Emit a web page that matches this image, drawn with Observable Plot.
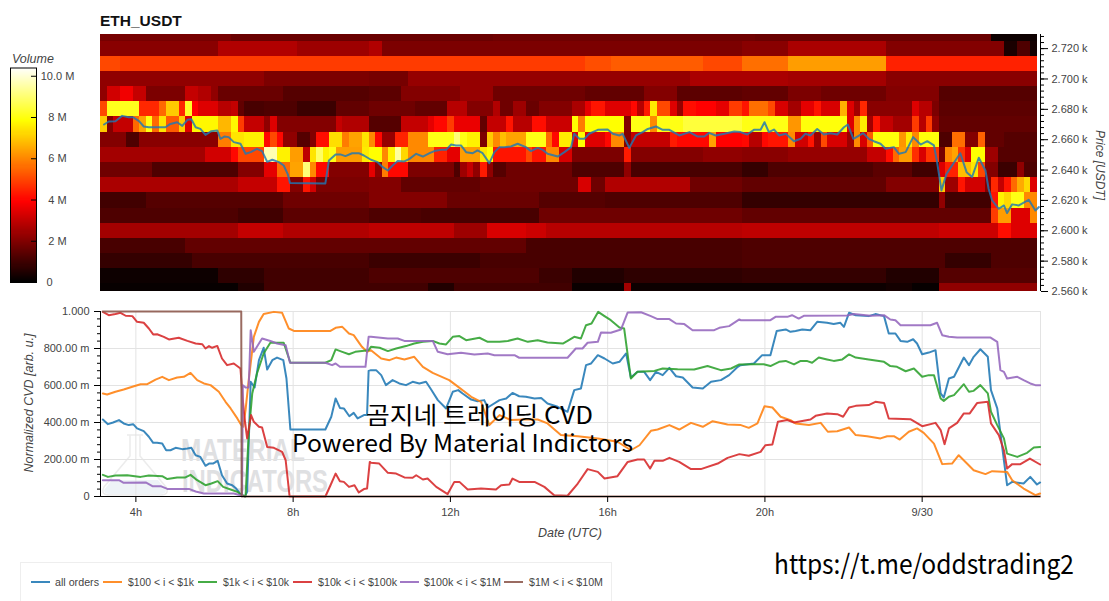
<!DOCTYPE html>
<html><head><meta charset="utf-8">
<script src="https://cdn.jsdelivr.net/npm/d3@7"></script>
<script src="https://cdn.jsdelivr.net/npm/@observablehq/plot@0.6"></script>
<style>
html,body{margin:0;padding:0;background:#fff}
#wrap{position:relative;width:1109px;height:601px;overflow:hidden;font-family:"Liberation Sans",Arial,sans-serif}
#wrap>*{position:absolute;left:0;top:0}
#legend{left:20px;top:562px;width:592px;height:50px;border:1px solid #eee;box-sizing:border-box;z-index:3;background:#fff}
</style></head><body><div id="wrap"></div>
<script>
// ---------- heat map: [start column, volume in millions, ...]; a value holds until the next start column
const row2730=[0,1.8,20,1.6,60,1.7,100,1.6,136,0.2];
const row2720=[0,2.1,18,2.7,30,2.4,41,2.7,43,1.9,98,2.1,105,2.6,120,2.0,138,0.4,140,1.2,142,0.3];
const row2710=[0,5.0,3,4.8,74,5.1,78,5.3,92,5.0,98,5.6,105,6.3,120,4.4];
const row2700=[0,2.2,25,1.9,41,1.8,47,2.3,90,2.6,105,2.5,120,2.1];
const row2690=[0,2.2,1,3.2,3,3.7,5,3.0,7,1.9,13,3.0,15,2.7,17,2.2,18,1.6,28,1.3,41,1.4,46,2.0,55,2.3,60,1.7,74,1.5,83,2.0,88,1.4,98,1.5,105,1.9,110,1.7,120,2.0,128,1.3];
const row2680=[0,5,1,8.1,6,4.5,9,5.5,10,7,12,4.5,13,8.2,14,3.9,15,3.4,18,2.8,20,3.0,21,1.5,22,1.1,25,1.2,30,0.9,36,1.5,41,1.7,48,1.5,53,2.8,56,2,60,2.7,61,1.7,63,2.4,65,1.6,67,2,72,2.6,74,3.5,75,4.2,77,3.4,81,4,82,2.8,83,4.3,84,7.5,85,5,87,3.4,88,2.3,89,4.1,91,3.9,94,3.5,96,4.8,98,4.2,99,5.6,102,5,103,3.3,105,2.5,107,3.5,109,4.2,110,3.3,113,6.6,114,3.4,115,2.5,116,4.5,117,2.1,124,3.4,125,2.8,127,1.9,128,1.4];
const row2670=[0,7,1,2,2,3,5,5.5,6,6.4,7,8,8,5.5,9,7.4,10,5.3,12,7,13,3.4,14,7.7,18,6.7,20,7.7,21,4.8,22,3,25,2.2,26,3.4,27,2,36,3,37,2.7,41,1.3,46,3,50,3.5,51,4,53,4.8,54,3.6,58,1.5,59,3,62,4.2,63,2.8,66,4.1,68,3.1,72,7.8,73,5.8,74,7.8,80,2,81,8,84,6,85,8,89,8.4,98,8,105,6.2,107,7.9,114,3.4,115,6,116,7.5,117,2.5,118,4.2,119,3,121,2.5,124,4.8,125,2.8,126,4.8,127,2.2,128,1.5];
const row2660=[0,2,4,1.2,6,2.1,18,5.8,20,7.4,22,7.6,25,4,26,5,27,4,28,2.2,30,1.3,32,2,33,4.1,35,7.3,37,5.8,38,6.4,40,7.4,41,6,42,4,43,2.3,45,4.4,47,6,50,8,54,9,55,8,56,7.6,58,1.9,59,7,60,6,61,6.8,62,6.4,65,8,68,5.5,69,4,70,7.5,72,3.4,73,7.8,74,3.4,77,4,78,6,80,2,81,3,87,4.3,88,4,93,6.4,94,3.9,98,4,99,2.8,101,4,102,4.2,105,6,106,3.2,108,4.2,109,2.4,110,5,111,3.3,114,2.4,115,6,116,3.3,117,5.3,118,7.9,122,6.2,123,7.5,124,6,125,7.9,128,1.2,130,5.6,132,2,134,5.4,135,1.5,138,1.3];
const row2650=[0,2.5,16,3.2,20,4,21,5,25,9.6,27,7.6,29,6.3,31,2.9,32,7.4,33,8.8,34,7.6,35,8,36,6.3,40,7.5,41,7.8,43,6,44,7.6,45,9.4,46,7.2,47,6,51,4.4,53,3.5,55,6.3,58,7.4,59,7.8,60,4.2,65,5,66,4.2,68,6,70,3.3,72,1.9,80,4.3,81,2,92,2.2,98,2.1,105,2.3,117,3,120,4.1,121,5.5,122,6.3,124,4.6,125,3.3,126,4.7,128,1.8,129,6,130,6.4,131,4.7,132,3.4,133,7.8,135,2.4,137,1.3];
const row2640=[0,1.7,8,1.2,21,2,25,3.5,27,5.5,29,6.4,31,9,32,6,33,4,35,2,41,3.5,42,2.2,43,5.8,44,4,47,1.9,54,1.2,55,2.4,56,3,57,2.2,58,4.3,59,2.2,60,1.3,62,1.7,72,1.2,80,2.2,81,1.1,98,0.8,102,1.2,118,1.4,124,1,128,3.4,129,4.4,131,6.8,133,7.4,134,5,135,2,137,0.9,140,2.2,141,1.2];
const row2630=[0,2.6,21,3,27,4.2,29,2,31,4.2,32,3.2,33,1.9,41,2,46,1.5,58,1.7,73,3.3,75,1.7,77,2.7,90,1.7,98,1.5,120,2,128,7,129,2.4,131,4.2,132,3.2,135,2,136,4.5,137,3,138,4.2,139,5.5,140,6.5,141,7.2,142,3.4];
const row2620=[0,1,7,1.3,28,1.7,41,2,53,1.6,67,1.3,77,1.2,98,0.8,128,2.2,129,1,136,4.2,137,7.6,138,7.2,139,8,141,6];
const row2610=[0,1.2,21,1,28,1.4,41,1.2,49,1.1,67,1.7,98,1.5,136,4.8,137,6.3,139,3.4,142,6];
const row2600=[0,2.5,21,3,28,2.7,41,2.9,54,2.4,59,3.3,65,3.1,68,2.8,98,2.9,128,3.1,137,4.1,139,3.4];
const row2590=[0,1.1,13,1.5,41,1.5,65,1.1,98,1.2];
const row2580=[0,.8,14,1.1,41,.9,58,1.1,98,1.2,129,.8,136,1.2];
const row2570=[0,.2,18,.7,25,1,41,1.2,67,.9,72,.5,80,.7,98,.8,120,.5,128,1.3];
const row2560=[0,.1,21,.5,25,1,41,1.0,50,.5,54,1,72,.15,80,2.5,81,.2,98,.2,120,.3,124,.1,128,2.2];
const heatRows=[[2730,row2730],[2720,row2720],[2710,row2710],[2700,row2700],[2690,row2690],[2680,row2680],[2670,row2670],[2660,row2660],[2650,row2650],[2640,row2640],[2630,row2630],[2620,row2620],[2610,row2610],[2600,row2600],[2590,row2590],[2580,row2580],[2570,row2570],[2560,row2560]];
const columnCount=143, firstHour=3.10, lastHour=27.01, columnHours=1/6, binUSD=10;

// ---------- price line: hour, USDT
const price=[3.19,2670,3.31,2672,3.48,2672.2,3.65,2675.7,3.82,2674.8,3.93,2674.8,4.08,2672.2,4.20,2668.7,4.33,2668.2,4.58,2668.2,4.75,2668.2,4.88,2670.4,5.05,2671.5,5.18,2669.1,5.31,2673.1,5.41,2673.5,5.52,2668.2,5.64,2667.1,5.77,2663.2,5.92,2665.6,6.07,2666.1,6.15,2660.6,6.25,2662.1,6.36,2661.7,6.49,2658.4,6.66,2657.3,6.79,2650.7,6.92,2651.8,7.08,2654,7.21,2652.5,7.34,2645.4,7.47,2646.8,7.64,2645.2,7.76,2643,7.86,2637.5,7.92,2631.4,8.82,2631.2,8.91,2646.3,9.08,2650.3,9.20,2650.3,9.33,2649.2,9.50,2651.1,9.67,2651.1,9.80,2649.6,9.98,2646.8,10.15,2645.2,10.28,2641.9,10.41,2639.7,10.53,2643,10.66,2645.9,10.83,2645.7,10.96,2647.4,11.13,2650.7,11.30,2648.9,11.47,2651.1,11.59,2652.5,11.76,2653.3,11.89,2653.3,12.02,2656.8,12.14,2656.2,12.27,2656.2,12.40,2651.8,12.57,2651.1,12.69,2652.9,12.82,2651.1,12.99,2644.6,13.12,2651.8,13.25,2655.1,13.37,2655.1,13.54,2655.5,13.71,2657.3,13.92,2655.1,14.05,2652.5,14.22,2654.6,14.35,2653.3,14.47,2650.7,14.73,2648.9,14.90,2651.8,15.07,2655.1,15.15,2663.9,15.28,2660.6,15.41,2660.6,15.53,2663.9,15.75,2666.5,16.0,2666.7,16.13,2663.9,16.30,2662.8,16.38,2663.9,16.55,2654.6,16.72,2662.8,16.89,2665,17.02,2667.1,17.23,2668.7,17.40,2666.5,17.57,2666.5,17.82,2662.8,18.08,2665,18.29,2662.1,18.46,2662.1,18.58,2664.5,18.75,2662.8,18.97,2663.9,19.22,2665.4,19.38,2665,19.55,2663.4,19.72,2666.5,19.89,2666.5,19.99,2671.5,20.10,2665,20.23,2666.7,20.36,2662.8,20.53,2663.9,20.74,2659,20.91,2660.6,21.03,2663.9,21.16,2662.8,21.33,2667.1,21.50,2663.4,21.67,2664.3,21.84,2663.4,22.01,2668.2,22.11,2670,22.25,2660.6,22.35,2662.1,22.50,2664.3,22.64,2660.6,22.77,2659,22.94,2657.3,23.07,2654,23.28,2655.1,23.41,2650.7,23.58,2651.8,23.77,2661.7,23.96,2656.8,24.13,2659,24.30,2656.2,24.38,2645.2,24.49,2626.6,24.62,2637.5,24.76,2643,24.97,2651.1,25.13,2638.6,25.27,2635.4,25.44,2648.1,25.61,2639.7,25.69,2627.7,25.78,2620,25.95,2614.5,26.08,2616.7,26.16,2611.7,26.29,2617.4,26.46,2616.7,26.71,2620.4,26.88,2613.4,26.97,2615.6];

// ---------- normalized CVD: hour, value
const allOrders=[3.16,.416,3.29,.391,3.42,.4,3.57,.413,3.69,.395,3.82,.386,3.93,.391,4.03,.368,4.2,.353,4.33,.323,4.44,.29,4.54,.29,4.67,.286,4.77,.25,4.88,.25,5.01,.263,5.18,.256,5.31,.259,5.41,.263,5.52,.223,5.64,.214,5.77,.166,5.86,.178,5.96,.178,6.08,.193,6.19,.115,6.32,.07,6.45,.061,6.55,.043,6.66,.013,6.73,.005,6.77,0,6.83,.025,6.92,.62,7.02,.589,7.13,.737,7.25,.804,7.34,.686,7.47,.737,7.59,.751,7.75,.737,7.83,.638,7.93,.362,8.82,.362,8.97,.431,9.08,.53,9.19,.479,9.29,.476,9.43,.434,9.54,.452,9.64,.422,9.8,.44,9.88,.44,9.92,.679,9.98,.683,10.11,.683,10.24,.656,10.36,.602,10.53,.629,10.7,.611,10.87,.602,11.04,.62,11.21,.611,11.38,.62,11.51,.578,11.68,.521,11.89,.476,12.06,.566,12.2,.575,12.31,.557,12.53,.524,12.69,.515,12.86,.521,12.95,.481,13.25,.521,13.42,.53,13.58,.56,13.75,.542,13.92,.539,14.14,.53,14.31,.533,14.47,.503,14.73,.485,14.98,.458,15.15,.575,15.32,.584,15.45,.71,15.58,.719,15.75,.764,15.92,.746,16.13,.719,16.3,.728,16.47,.773,16.59,.643,16.76,.674,16.93,.674,17.08,.629,17.23,.674,17.4,.656,17.57,.695,17.74,.65,17.91,.643,18.16,.589,18.42,.584,18.63,.62,18.88,.629,19.09,.656,19.31,.701,19.38,.71,19.72,.719,19.93,.764,20.14,.764,20.3,.895,20.53,.903,20.65,.89,20.78,.895,20.95,.903,21.16,.899,21.33,.944,21.58,.939,21.75,.932,21.92,.939,22.01,.917,22.14,.993,22.31,.98,22.64,.975,22.81,.986,23.03,.975,23.15,.881,23.32,.881,23.45,.841,23.62,.836,23.77,.85,23.87,.827,24,.769,24.17,.778,24.34,.791,24.47,.557,24.55,.535,24.68,.638,24.81,.647,25.06,.751,25.19,.71,25.31,.755,25.48,.796,25.67,.755,25.75,.575,25.91,.476,26.16,.061,26.29,.079,26.58,.07,26.75,.106,26.92,.065,27,.076];
const usd100to1k=[3.16,.557,3.27,.551,3.48,.566,3.69,.578,3.95,.596,4.12,.607,4.29,.607,4.5,.632,4.67,.647,4.84,.629,5.05,.643,5.22,.647,5.39,.668,5.56,.629,5.73,.611,5.9,.602,6.11,.566,6.28,.512,6.41,.476,6.58,.422,6.68,.386,6.73,.377,6.79,.468,6.87,.629,7,.863,7.13,.944,7.25,.986,7.51,.998,7.72,.993,7.89,.908,8.02,.895,8.95,.895,9.08,.912,9.25,.917,9.42,.881,9.54,.872,9.75,.809,9.88,.782,9.98,.791,10.24,.746,10.45,.737,10.62,.751,10.83,.741,11.08,.755,11.3,.701,11.55,.668,11.97,.629,12.14,.602,12.53,.539,12.78,.512,12.99,.386,13.25,.44,13.54,.413,13.92,.416,14.22,.416,14.47,.395,14.81,.332,15.24,.326,15.75,.314,16.25,.296,16.59,.25,16.81,.277,17.1,.355,17.27,.362,17.57,.386,17.82,.362,18.12,.398,18.42,.377,18.67,.407,19.05,.389,19.39,.386,19.59,.371,19.81,.395,19.99,.488,20.19,.481,20.4,.431,20.65,.413,20.78,.395,21.12,.386,21.42,.398,21.6,.35,21.84,.353,22.14,.373,22.31,.332,22.6,.326,22.94,.314,23.11,.326,23.28,.326,23.43,.308,23.66,.35,23.87,.368,24.04,.344,24.3,.286,24.51,.175,24.76,.178,24.93,.223,25.14,.178,25.31,.142,25.61,.121,25.78,.137,26.16,.133,26.29,.088,26.58,.043,26.88,.007,27,.016];
const usd1kto10k=[3.16,.117,3.29,.106,3.48,.114,3.78,.115,4.12,.106,4.33,.114,4.67,.11,4.8,.094,5.05,.103,5.26,.103,5.39,.117,5.56,.088,5.77,.061,5.92,.07,6.08,.083,6.22,.052,6.41,.038,6.58,.025,6.7,.007,6.79,0,6.87,.341,6.96,.557,7.08,.665,7.25,.773,7.42,.831,7.76,.831,7.93,.723,8.82,.723,8.97,.737,9.08,.795,9.25,.782,9.42,.769,9.58,.782,9.92,.791,9.98,.809,10.2,.804,10.41,.786,10.62,.8,10.87,.813,11.08,.827,11.3,.836,11.55,.841,11.72,.827,11.89,.822,12.06,.863,12.23,.867,12.4,.845,12.74,.858,12.95,.836,13.25,.836,13.46,.841,13.71,.854,13.97,.836,14.22,.845,14.47,.832,14.86,.827,14.98,.841,15.15,.863,15.32,.854,15.45,.926,15.59,.935,15.76,.998,15.92,.975,16.08,.953,16.3,.914,16.42,.908,16.59,.638,16.76,.674,17.19,.679,17.4,.692,17.78,.688,18.2,.686,18.54,.705,18.88,.683,19.14,.692,19.35,.714,19.72,.715,19.97,.715,20.14,.705,20.36,.728,20.53,.733,20.74,.714,20.91,.733,21.08,.732,21.2,.723,21.37,.751,21.58,.741,21.75,.733,21.97,.741,22.14,.768,22.31,.751,22.64,.741,23.03,.728,23.19,.705,23.36,.701,23.58,.677,23.79,.692,24,.647,24.17,.656,24.3,.656,24.47,.53,24.55,.517,24.68,.539,24.81,.548,25.06,.607,25.19,.566,25.31,.571,25.48,.602,25.67,.557,25.75,.458,25.91,.386,26.08,.314,26.16,.232,26.42,.214,26.67,.236,26.84,.265,27,.268];
const usd10kto100k=[3.16,.998,3.31,.98,3.48,.986,3.61,.993,3.74,.977,3.91,.975,4.03,.944,4.2,.939,4.33,.908,4.44,.876,4.54,.877,4.71,.863,4.84,.849,5.09,.858,5.31,.841,5.52,.827,5.69,.823,5.77,.8,5.86,.813,5.94,.804,6.07,.814,6.19,.746,6.32,.71,6.49,.719,6.66,.692,6.72,.521,6.76,.431,6.83,.314,6.93,.44,7,.404,7.13,.377,7.21,.373,7.34,.268,7.51,.263,7.72,.241,7.81,.196,7.91,0,8.82,0,8.95,.061,9.08,.124,9.19,.083,9.29,.079,9.42,.052,9.56,.061,9.67,.022,9.8,.04,9.88,.043,9.95,.187,9.98,.182,10.19,.178,10.41,.128,10.62,.124,10.83,.103,11.04,.101,11.13,.115,11.3,.092,11.42,.097,11.64,.052,11.93,.013,12.1,.079,12.23,.079,12.44,.038,12.78,.043,13.16,.038,13.29,.061,13.5,.065,13.58,.097,13.75,.079,14.14,.079,14.39,.052,14.64,.007,14.98,.004,15.24,.07,15.49,.148,15.75,.133,15.92,.097,16.25,.11,16.51,.187,16.76,.2,16.93,.2,17.08,.151,17.19,.193,17.4,.193,17.57,.209,17.82,.187,18.12,.148,18.37,.148,18.8,.178,19.05,.209,19.35,.229,19.59,.22,19.89,.241,20.01,.277,20.19,.281,20.33,.404,20.57,.413,20.74,.4,21.16,.416,21.29,.436,21.58,.449,21.84,.445,21.99,.431,22.14,.481,22.31,.49,22.64,.494,22.81,.512,23.03,.506,23.15,.422,23.7,.418,24,.38,24.34,.398,24.47,.359,24.57,.283,24.68,.368,24.89,.398,25.06,.449,25.21,.449,25.4,.506,25.67,.512,25.75,.395,25.95,.332,26.08,.25,26.16,.151,26.29,.175,26.5,.175,26.74,.205,27,.173];
const usd100kto1M=[3.16,.088,3.57,.088,3.69,.074,4.25,.076,4.42,.056,4.63,.056,4.8,.041,5.35,.041,5.52,.027,5.73,.016,6.49,.016,6.7,.004,6.72,.602,6.79,.589,6.87,.589,6.92,.899,7,.782,7.13,.827,7.21,.854,7.42,.841,7.59,.827,7.81,.818,7.92,.723,8.82,.723,8.99,.71,9.08,.719,9.19,.701,9.84,.701,9.92,.863,9.98,.863,10.41,.854,10.66,.854,10.83,.841,11.55,.841,11.68,.782,11.93,.769,12.27,.777,12.61,.768,12.95,.773,13.12,.764,13.63,.764,13.75,.75,14.98,.75,15.19,.8,15.36,.8,15.49,.831,15.75,.836,15.83,.886,16.08,.885,16.34,.903,16.51,.995,16.85,.996,17.1,.975,17.27,.959,17.57,.959,17.74,.935,17.95,.932,18.16,.899,18.71,.899,18.84,.912,19.09,.921,19.35,.957,19.38,.953,20.14,.953,20.27,.971,20.57,.971,20.69,.98,20.86,.962,20.99,.977,22.09,.978,22.26,.986,22.69,.977,23.03,.98,23.19,.957,23.32,.953,23.45,.926,24.21,.926,24.38,.939,24.51,.872,24.68,.863,24.89,.859,25.74,.859,25.91,.836,25.99,.683,26.08,.674,26.16,.638,26.42,.647,26.58,.629,26.75,.611,26.88,.602,27,.602];
const usd1Mto10M=[3.16,1,6.68,1,6.69,0,27,0];

const seriesNames=["all orders","$100 < i < $1k","$1k < i < $10k","$10k < i < $100k","$100k < i < $1M","$1M < i < $10M"];
const seriesValues=[allOrders,usd100to1k,usd1kto10k,usd10kto100k,usd100kto1M,usd1Mto10M];
const seriesColors=["#1f77b4","#ff7f0e","#2ca02c","#d62728","#9467bd","#8c564b"];
const hourTicks=[4,8,12,16,20,24];
const hourLabels=["4h","8h","12h","16h","20h","9/30"];
const priceTicks=[2560,2580,2600,2620,2640,2660,2680,2700,2720];
const cvdTicks=[0,.2,.4,.6,.8,1];
const cvdLabels=["0","200.00 m","400.00 m","600.00 m","800.00 m","1.000"];
const volumeTicks=[2,4,6,8,10];
const volumeLabels=["2 M","4 M","6 M","8 M","10.0 M"];

// ---------- helpers
const pairs=(a,ka,kb,extra)=>d3.range(0,a.length,2).map(i=>({[ka]:a[i],[kb]:a[i+1],...extra}));
function expand(r){const out=[];let j=0;for(let c=0;c<columnCount;c++){while(j+2<r.length&&r[j+2]<=c)j+=2;out.push(r[j+1]);}return out;}
const cells=heatRows.flatMap(([p,r])=>expand(r).map((v,c)=>({x1:firstHour+c*columnHours,x2:firstHour+(c+1)*columnHours,y1:p-binUSD/2,y2:p+binUSD/2,v})));
const colorScale={type:"linear",domain:[0,3.9,7.8,10.4],range:["#000000","#ff0000","#ffff00","#ffffff"],interpolate:"rgb"};
const font={fontFamily:"'Liberation Sans',Arial,sans-serif",fontSize:"11px",background:"transparent",overflow:"visible"};
const xScale={domain:[firstHour,lastHour],axis:null};
const wrap=d3.select("#wrap");

// ---------- watermark (under the lower chart)
wrap.append("div").html(`<svg width="1109" height="601" style="display:block">
<path d="M127 435H143M130 435V456L104 487Q100 495 110 495H160Q170 495 166 487L140 456V435" fill="none" stroke="#ececec" stroke-width="1.5"/>
<path d="M112 480H158L166 490Q166 494 160 494H110Q104 494 104 490Z" fill="#eef3f7"/>
<g font-family="'Liberation Sans',Arial" font-weight="700" font-size="31" fill="#dfe0e2">
<text x="181" y="461" textLength="124" lengthAdjust="spacingAndGlyphs">MATERIAL</text>
<text x="182" y="492" textLength="146" lengthAdjust="spacingAndGlyphs">INDICATORS</text></g></svg>`);

// ---------- upper chart
const upper=Plot.plot({width:1109,height:300,marginLeft:100,marginRight:69,marginTop:34,marginBottom:9,
 style:font,x:xScale,y:{domain:[2560,2729.3],axis:null},color:colorScale,
 marks:[
  Plot.rect(cells,{x1:"x1",x2:"x2",y1:"y1",y2:"y2",fill:"v",clip:true,shapeRendering:"crispEdges"}),
  Plot.line(pairs(price,"h","p"),{x:"h",y:"p",stroke:"#1f77b4",strokeOpacity:.82,strokeWidth:2}),
  Plot.ruleX([lastHour],{stroke:"#000"}),
  Plot.axisY({anchor:"right",label:null,ticks:d3.range(2560,2729,4),tickSize:3,text:null,stroke:"#000"}),
  Plot.axisY({anchor:"right",label:null,ticks:priceTicks,tickSize:7,tickPadding:4,stroke:"#000",fill:"#444",tickFormat:d=>(d/1000).toFixed(3)+" k"})
 ]});
wrap.append(()=>upper);

// ---------- colour bar
const upper2=Plot.plot({width:100,height:300,marginLeft:10,marginRight:64,marginTop:67.5,marginBottom:18,
 style:font,x:{domain:[0,1],axis:null},y:{domain:[0,10.4],axis:null},color:colorScale,
 marks:[
  Plot.rect(d3.range(0,10.4,.05),{x1:0,x2:1,y1:d=>d,y2:d=>d+.05,fill:d=>d,shapeRendering:"crispEdges",clip:true}),
  Plot.frame({stroke:"#000"}),
  Plot.axisY({anchor:"right",label:null,ticks:volumeTicks,tickSize:-6,tickPadding:27,textAnchor:"middle",stroke:"#000",fill:"#444",tickFormat:d=>volumeLabels[volumeTicks.indexOf(d)]}),
  Plot.axisY({anchor:"right",label:null,ticks:[0],tickSize:0,tickPadding:13,textAnchor:"middle",fill:"#444",tickFormat:()=>"0"})
 ]});
wrap.append(()=>upper2);

// ---------- lower chart
const lower=Plot.plot({width:1109,height:540,marginLeft:100,marginRight:69,marginTop:311,marginBottom:44,
 style:font,x:{domain:[firstHour,lastHour],axis:null},y:{domain:[0,1],axis:null},
 marks:[
  Plot.ruleY(cvdTicks,{stroke:"#e3e3e3"}),
  Plot.ruleX([...hourTicks,lastHour],{stroke:"#e3e3e3"}),
  ...seriesValues.map((s,i)=>Plot.line(pairs(s,"h","v"),{x:"h",y:"v",stroke:seriesColors[i],strokeOpacity:.88,strokeWidth:2})),
  Plot.ruleY([0],{stroke:"#000"}),
  Plot.ruleX([firstHour],{stroke:"#000"}),
  Plot.axisY({label:null,ticks:d3.range(0,1.001,.04),tickSize:3,text:null,stroke:"#000"}),
  Plot.axisY({label:null,ticks:cvdTicks,tickSize:6,tickPadding:5,stroke:"#000",fill:"#444",tickFormat:d=>cvdLabels[cvdTicks.indexOf(d)]}),
  Plot.axisX({label:null,ticks:hourTicks,tickSize:6,tickPadding:6,stroke:"#000",fill:"#444",tickFormat:d=>hourLabels[hourTicks.indexOf(d)]})
 ]});
wrap.append(()=>lower);

// ---------- texts over the charts
const sans="'Liberation Sans',Arial,sans-serif", cjk="'Noto Sans CJK KR','Noto Sans',sans-serif";
const over=wrap.append("svg").attr("width",1109).attr("height",601).style("z-index",2).style("pointer-events","none");
const T=(s,x,y,o={})=>{const t=over.append("text").text(s).attr("x",x).attr("y",y).attr("font-family",o.f||sans).attr("font-size",o.s||12).attr("fill",o.c||"#444");
 if(o.b)t.attr("font-weight",700);if(o.i)t.attr("font-style","italic");if(o.a)t.attr("text-anchor",o.a);if(o.len)t.attr("textLength",o.len).attr("lengthAdjust","spacingAndGlyphs");if(o.r)t.attr("transform",`rotate(${o.r} ${x} ${y})`);return t;};
T("ETH_USDT",100,26,{s:15.5,b:1,c:"#111"});
T("Volume",12,63,{s:12.5,i:1,c:"#444"});
T("Price [USDT]",1096,165,{s:12,i:1,a:"middle",r:90});
T("Normalized CVD [arb. u.]",33,403,{s:12.5,i:1,a:"middle",r:-90});
T("Date (UTC)",570,537,{s:12.5,i:1,a:"middle"});
T("곰지네 트레이딩 CVD",366,424,{f:cjk,s:24,c:"#000",len:227});
T("Powered By Material Indictors",292,452,{f:cjk,s:24,c:"#000",len:341});
T("https://t.me/oddstrading2",774,574,{f:cjk,s:27,c:"#000",len:300});

// ---------- legend
const legendSwatch=[10,82,177,272,379,483];
const legendText=[34,107,202,297,403,508];
const legendWidths=[44,66,66,79,77,74];
const legend=wrap.append("div").attr("id","legend");
const L=legend.append("svg").attr("width",590).attr("height",40).style("display","block");
seriesNames.forEach((n,i)=>{
 L.append("line").attr("x1",legendSwatch[i]).attr("x2",legendSwatch[i]+19).attr("y1",19).attr("y2",19).attr("stroke",seriesColors[i]).attr("stroke-width",2).attr("stroke-opacity",.88);
 L.append("text").text(n).attr("x",legendText[i]).attr("y",23).attr("font-family",sans).attr("font-size",11).attr("fill","#444").attr("textLength",legendWidths[i]).attr("lengthAdjust","spacingAndGlyphs");
});
</script></body></html>
